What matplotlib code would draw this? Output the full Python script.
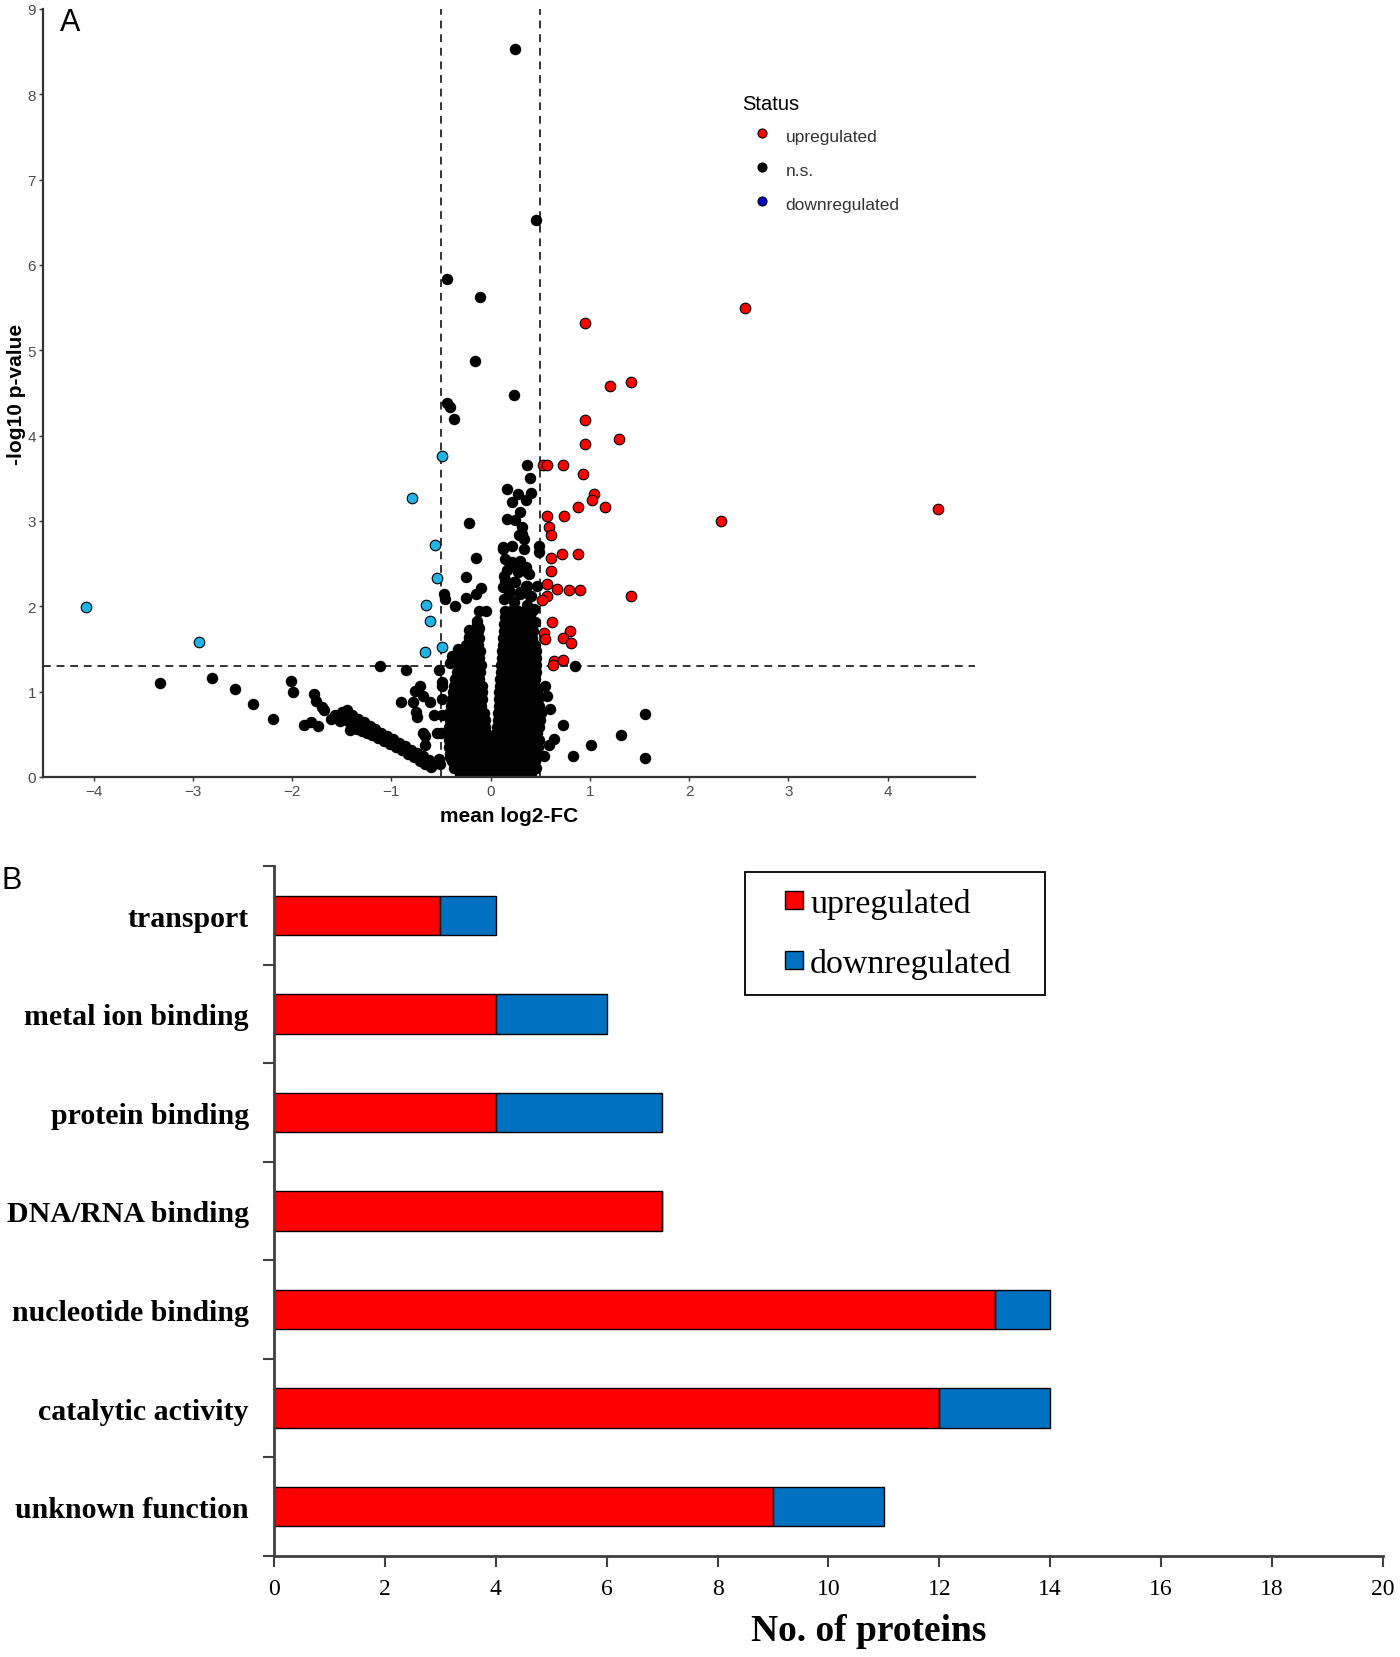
import matplotlib
matplotlib.use('Agg')
import matplotlib.pyplot as plt
from matplotlib.lines import Line2D

# ---------------- panel A : volcano ----------------
up_x = [0.95, 2.56, 1.20, 1.41, 0.95, 1.29, 0.95, 0.53, 0.57, 0.73, 0.93, 1.04, 1.02, 0.88,
        1.15, 0.57, 0.74, 0.59, 0.61, 0.72, 0.88, 0.61, 0.61, 0.57, 0.67, 0.79, 0.90, 0.57,
        0.52, 1.41, 0.62, 0.54, 0.55, 0.80, 0.73, 0.81, 0.64, 0.63, 0.73, 2.32, 4.51]
up_y = [5.32, 5.49, 4.58, 4.63, 4.18, 3.96, 3.90, 3.65, 3.65, 3.65, 3.55, 3.31, 3.24, 3.16,
        3.16, 3.06, 3.06, 2.93, 2.83, 2.61, 2.61, 2.56, 2.41, 2.26, 2.20, 2.19, 2.19, 2.12,
        2.07, 2.12, 1.82, 1.69, 1.62, 1.71, 1.63, 1.57, 1.36, 1.31, 1.37, 3.00, 3.14]

down_x = [-4.08, -2.94, -0.49, -0.79, -0.56, -0.54, -0.65, -0.61, -0.66, -0.49]
down_y = [1.99, 1.58, 3.76, 3.27, 2.72, 2.33, 2.02, 1.83, 1.46, 1.52]

# n.s. proteins, scattered ones
ns_points = [
    (0.25, 8.53), (0.46, 6.53), (-0.44, 5.83), (-0.11, 5.63), (-0.16, 4.87), (0.24, 4.48),
    (-0.44, 4.38), (-0.41, 4.33), (-0.37, 4.20), (-0.22, 2.98), (-0.15, 2.57), (-0.25, 2.34),
    (-0.10, 2.21), (-0.15, 2.14), (-0.47, 2.14), (-0.46, 2.08), (-0.25, 2.10), (-0.36, 2.00),
    (-0.05, 1.95), (-0.12, 1.95), (-0.14, 1.83), (-0.12, 1.75), (-0.22, 1.72), (-0.22, 1.64),
    (-0.33, 1.50), (-0.39, 1.42), (-0.41, 1.34), (-0.52, 1.25), (-0.49, 1.11),
    (-1.11, 1.30), (-0.85, 1.25), (0.85, 1.30), (0.49, 2.71), (0.49, 2.64), (0.47, 2.24),
    (1.56, 0.74), (1.31, 0.49), (1.01, 0.38), (0.83, 0.25), (1.56, 0.22), (0.73, 0.61),
    (0.64, 0.45), (0.59, 0.37), (0.54, 0.25), (0.55, 1.07), (0.57, 0.95), (0.60, 0.80),
    (0.33, 1.85), (0.45, 1.81), (0.25, 1.76),
    (-0.71, 1.07), (-0.76, 1.01), (-0.68, 0.95), (-0.90, 0.875), (-0.78, 0.875), (-0.61, 0.875),
    (-0.75, 0.76), (-0.74, 0.70), (-0.57, 0.72), (-0.49, 1.07), (-0.49, 0.91), (-0.49, 0.72),
    (-0.50, 0.52), (-0.68, 0.52), (-0.66, 0.37), (-0.66, 0.48), (-0.54, 0.51), (-0.52, 0.21),
    (-0.51, 0.15), (-0.41, 0.23), (-0.30, 0.09), (0.33, 0.07),
    # left tail
    (-3.33, 1.10), (-2.81, 1.16), (-2.58, 1.03), (-2.39, 0.86), (-2.19, 0.68), (-2.01, 1.13),
    (-1.99, 1.00), (-1.88, 0.61), (-1.81, 0.64), (-1.74, 0.60), (-1.78, 0.97), (-1.76, 0.89),
    (-1.70, 0.82), (-1.68, 0.79), (-1.61, 0.68),
    (-1.57, 0.72), (-1.50, 0.76), (-1.45, 0.78), (-1.40, 0.72), (-1.34, 0.68), (-1.28, 0.64),
    (-1.22, 0.60), (-1.16, 0.56), (-1.10, 0.52), (-1.04, 0.48), (-0.98, 0.44), (-0.92, 0.40),
    (-0.86, 0.36), (-0.80, 0.32), (-0.74, 0.28), (-0.68, 0.24), (-0.62, 0.20),
    (-1.52, 0.66), (-1.44, 0.66), (-1.40, 0.58), (-1.35, 0.56), (-1.30, 0.54), (-1.25, 0.52),
    (-1.19, 0.49), (-1.13, 0.46), (-1.07, 0.42), (-1.01, 0.39), (-0.95, 0.35), (-0.89, 0.31),
    (-0.83, 0.27), (-0.77, 0.23), (-0.71, 0.19), (-0.66, 0.15), (-0.60, 0.12), (-1.42, 0.55),
    # upper part of the right lobe
    (0.37, 3.66), (0.40, 3.50), (0.17, 3.38), (0.28, 3.32), (0.41, 3.33), (0.36, 3.25),
    (0.22, 3.22), (0.30, 3.10), (0.17, 3.02), (0.25, 3.01), (0.32, 2.93), (0.31, 2.83),
    (0.34, 2.79), (0.12, 2.69), (0.22, 2.71), (0.34, 2.67), (0.14, 2.55), (0.22, 2.52),
    (0.17, 2.42), (0.36, 2.46), (0.39, 2.38), (0.17, 2.28), (0.25, 2.28), (0.36, 2.24),
    (0.19, 2.15), (0.30, 2.14), (0.40, 2.12), (0.12, 2.67), (0.19, 2.52), (0.30, 2.53),
    (0.27, 2.46), (0.37, 2.40), (0.14, 2.30), (0.24, 2.28), (0.37, 2.24), (0.20, 2.17),
    (0.30, 2.17), (0.41, 2.12), (0.24, 2.05), (0.37, 2.01), (0.44, 1.97), (0.29, 2.83),
    (0.32, 2.85), (0.13, 2.36), (0.28, 2.40), (0.12, 2.22), (0.13, 2.08),
]

# dense core: rows of (-log10 p, [log2-FC values])
ns_rows = [
    (0.03, [-0.31, -0.25, -0.19, -0.13, -0.07, -0.01, 0.05, 0.11, 0.17, 0.23, 0.29, 0.35, 0.41]),
    (0.11, [-0.37, -0.31, -0.25, -0.19, -0.13, -0.07, -0.02, 0.04, 0.10, 0.16, 0.22, 0.28, 0.34, 0.40, 0.46]),
    (0.19, [-0.39, -0.33, -0.27, -0.21, -0.15, -0.09, -0.03, 0.03, 0.09, 0.15, 0.21, 0.27, 0.33, 0.39, 0.45]),
    (0.27, [-0.41, -0.35, -0.29, -0.23, -0.17, -0.11, -0.05, 0.02, 0.08, 0.14, 0.20, 0.26, 0.32, 0.38, 0.44, 0.48]),
    (0.35, [-0.42, -0.36, -0.30, -0.24, -0.18, -0.12, -0.06, 0.00, 0.06, 0.12, 0.18, 0.24, 0.30, 0.36, 0.42, 0.48]),
    (0.43, [-0.42, -0.36, -0.30, -0.24, -0.18, -0.12, -0.06, 0.01, 0.07, 0.13, 0.19, 0.25, 0.31, 0.37, 0.43, 0.49]),
    (0.51, [-0.41, -0.35, -0.29, -0.23, -0.17, -0.11, -0.05, 0.05, 0.11, 0.17, 0.23, 0.29, 0.35, 0.41, 0.47]),
    (0.59, [-0.42, -0.36, -0.30, -0.24, -0.18, -0.12, -0.06, 0.06, 0.12, 0.18, 0.24, 0.30, 0.36, 0.42, 0.49]),
    (0.67, [-0.41, -0.35, -0.29, -0.23, -0.17, -0.11, -0.06, 0.07, 0.13, 0.19, 0.25, 0.31, 0.37, 0.43, 0.50]),
    (0.75, [-0.42, -0.36, -0.30, -0.24, -0.18, -0.12, -0.07, 0.07, 0.13, 0.19, 0.25, 0.31, 0.37, 0.43, 0.51]),
    (0.83, [-0.40, -0.34, -0.28, -0.22, -0.16, -0.10, 0.08, 0.14, 0.20, 0.26, 0.32, 0.38, 0.44, 0.49]),
    (0.91, [-0.39, -0.33, -0.27, -0.21, -0.15, -0.09, 0.08, 0.14, 0.20, 0.26, 0.32, 0.38, 0.44, 0.48]),
    (0.99, [-0.38, -0.32, -0.26, -0.20, -0.14, -0.09, 0.08, 0.14, 0.20, 0.26, 0.32, 0.38, 0.44, 0.47]),
    (1.07, [-0.37, -0.31, -0.25, -0.19, -0.13, -0.09, 0.09, 0.15, 0.21, 0.27, 0.33, 0.39, 0.45]),
    (1.15, [-0.36, -0.30, -0.24, -0.18, -0.12, 0.09, 0.15, 0.21, 0.27, 0.33, 0.39, 0.45]),
    (1.23, [-0.34, -0.28, -0.22, -0.16, -0.11, 0.10, 0.16, 0.22, 0.28, 0.34, 0.40, 0.46]),
    (1.31, [-0.32, -0.26, -0.20, -0.14, -0.10, 0.10, 0.16, 0.22, 0.28, 0.34, 0.40, 0.46]),
    (1.39, [-0.30, -0.24, -0.18, -0.12, 0.11, 0.17, 0.23, 0.29, 0.35, 0.41, 0.46]),
    (1.47, [-0.28, -0.22, -0.16, -0.11, 0.11, 0.17, 0.23, 0.29, 0.35, 0.41, 0.46]),
    (1.55, [-0.25, -0.19, -0.13, 0.12, 0.18, 0.24, 0.30, 0.36, 0.42, 0.45]),
    (1.63, [-0.22, -0.16, -0.12, 0.12, 0.18, 0.24, 0.30, 0.36, 0.42]),
    (1.71, [-0.18, -0.13, 0.13, 0.19, 0.25, 0.31, 0.37, 0.43]),
    (1.79, [-0.14, 0.13, 0.19, 0.25, 0.31, 0.37, 0.42]),
    (1.87, [0.14, 0.20, 0.27, 0.34, 0.40]),
    (1.95, [0.15, 0.21, 0.28, 0.35, 0.42]),
]

fc_cut = 0.5
p_cut = 1.301   # -log10(0.05)

# ---------------- panel B : GO categories ----------------
categories = ['transport', 'metal ion binding', 'protein binding', 'DNA/RNA binding',
              'nucleotide binding', 'catalytic activity', 'unknown function']
up_counts = [3, 4, 4, 7, 13, 12, 9]
down_counts = [1, 2, 3, 0, 1, 2, 2]

red = '#ff0000'
light_blue = '#1fb3e6'
bar_blue = '#0070c0'

fig = plt.figure(figsize=(14, 16.58), dpi=100)

# ---- A ----
ax = fig.add_axes([0.0307, 0.5308, 0.6657, 0.4632])
sans = ['Liberation Sans', 'DejaVu Sans']

ns_x = [p[0] for p in ns_points]
ns_y = [p[1] for p in ns_points]
for yy, xs in ns_rows:
    ns_x += xs
    ns_y += [yy] * len(xs)

ax.axhline(p_cut, color='#333333', lw=1.4, ls=(0, (4, 3)), zorder=1)
ax.axvline(-fc_cut, color='#333333', lw=1.4, ls=(0, (4, 3)), zorder=1)
ax.axvline(fc_cut, color='#333333', lw=1.4, ls=(0, (4, 3)), zorder=1)

ax.scatter(ns_x, ns_y, s=68, c='black', linewidths=0, zorder=2)
ax.scatter(up_x, up_y, s=58, c=red, edgecolors='black', linewidths=0.8, zorder=3)
ax.scatter(down_x, down_y, s=58, c=light_blue, edgecolors='black', linewidths=0.8, zorder=3)

ax.set_xlim(-4.51, 4.88)
ax.set_ylim(0, 9)
ax.set_xticks(range(-4, 5))
ax.set_yticks(range(0, 10))
ax.spines['top'].set_visible(False)
ax.spines['right'].set_visible(False)
for s in ['left', 'bottom']:
    ax.spines[s].set_color('#333333')
    ax.spines[s].set_linewidth(1.6)
ax.tick_params(length=3, width=1, color='#333333', labelsize=11, labelcolor='#4d4d4d', pad=2)
for lab in ax.get_xticklabels() + ax.get_yticklabels():
    lab.set_family(sans)
ax.set_xlabel('mean log2-FC', fontsize=15, fontweight='bold', family=sans, labelpad=6)
ax.set_ylabel('-log10 p-value', fontsize=15, fontweight='bold', family=sans, labelpad=1)

handles = [
    Line2D([], [], ls='none', marker='o', ms=6.5, mfc=red, mec='black', mew=0.8),
    Line2D([], [], ls='none', marker='o', ms=6.5, mfc='black', mec='black', mew=0.8),
    Line2D([], [], ls='none', marker='o', ms=6.5, mfc='#0000cd', mec='black', mew=0.8),
]
leg = ax.legend(handles, ['upregulated', 'n.s.', 'downregulated'], title='Status',
                loc='upper left', bbox_to_anchor=(742 / 1400, 1 - 95 / 1658),
                bbox_transform=fig.transFigure, frameon=False, borderpad=0, borderaxespad=0,
                prop={'family': sans, 'size': 12.5}, title_fontproperties={'family': sans, 'size': 14.5},
                handletextpad=0.2, labelspacing=0.67, handlelength=2.3, handleheight=1.6,
                alignment='left')
for t in leg.get_texts():
    t.set_color('#333333')

fig.text(60 / 1400, 1 - 8 / 1658, 'A', fontsize=22, family=sans, va='top', ha='left')

# ---- B ----
serif = ['Liberation Serif', 'DejaVu Serif']
bx = fig.add_axes([0.1957, 0.0609, 0.7921, 0.4162])
pos = [len(categories) - 1 - i for i in range(len(categories))]
bx.barh(pos, up_counts, height=0.4, color=red, edgecolor='black', linewidth=1.0,
        label='upregulated', zorder=2)
bx.barh(pos, down_counts, left=up_counts, height=0.4, color=bar_blue, edgecolor='black',
        linewidth=1.0, label='downregulated', zorder=2)

bx.set_xlim(0, 20)
bx.set_ylim(-0.5, len(categories) - 0.5)
bx.set_xticks(range(0, 21, 2))
bx.set_yticks([p - 0.5 for p in range(len(categories) + 1)])
bx.set_yticklabels([])
bx.set_yticks(pos, minor=True)
bx.set_yticklabels(categories, minor=True, fontsize=21.5, fontweight='bold', family=serif)
bx.tick_params(axis='y', which='minor', length=0, pad=18)
bx.tick_params(axis='y', which='major', length=8, width=1.5, color='#404040')
bx.tick_params(axis='x', length=8, width=1.5, color='#404040', labelsize=17, pad=8)
for lab in bx.get_xticklabels():
    lab.set_family(serif)
bx.spines['top'].set_visible(False)
bx.spines['right'].set_visible(False)
for s in ['left', 'bottom']:
    bx.spines[s].set_color('#404040')
    bx.spines[s].set_linewidth(2)
bx.set_xlabel('No. of proteins', fontsize=27, fontweight='bold', family=serif)
bx.xaxis.set_label_coords(0.536, -0.082)

lh = [Line2D([], [], ls='none', marker='s', ms=13.5, mfc=red, mec='black', mew=1.0),
      Line2D([], [], ls='none', marker='s', ms=13.5, mfc=bar_blue, mec='black', mew=1.0)]
bleg = bx.legend(lh, ['upregulated', 'downregulated'], loc='upper left',
                 bbox_to_anchor=(745 / 1400, 1 - 993 / 1658, 300 / 1400, 120 / 1658),
                 bbox_transform=fig.transFigure, mode='expand',
                 prop={'family': serif, 'size': 24.5}, fancybox=False, edgecolor='black',
                 framealpha=1, handlelength=1.96, handletextpad=-0.51,
                 borderpad=0.46, labelspacing=0.87, borderaxespad=0)
bleg.get_frame().set_linewidth(1.3)

fig.text(2 / 1400, 1 - 866 / 1658, 'B', fontsize=22, family=sans, va='top', ha='left')

fig.savefig('out.png', dpi=100)
